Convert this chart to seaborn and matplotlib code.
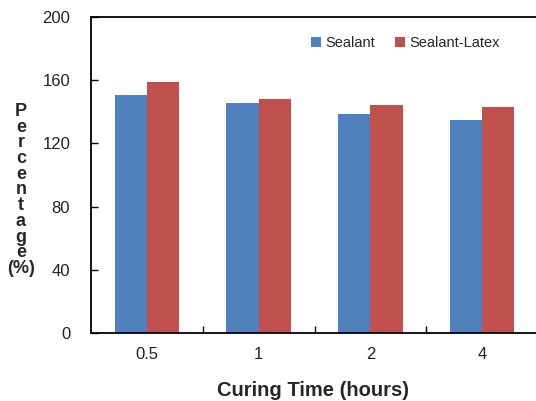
import numpy as np
import pandas as pd
import seaborn as sns
import matplotlib.pyplot as plt
from matplotlib.ticker import FixedLocator

# values
curing_time = ["0.5", "1", "2", "4"]
sealant = [150.5, 145.3, 138.5, 134.9]
sealant_latex = [158.9, 148.0, 144.6, 143.0]
series_names = ["Sealant", "Sealant-Latex"]
y_ticks = [0, 40, 80, 120, 160, 200]

df = pd.DataFrame({
    "time": curing_time * 2,
    "value": sealant + sealant_latex,
    "series": [series_names[0]] * 4 + [series_names[1]] * 4,
})

sns.set_theme(style="white")
plt.rcParams["font.family"] = ["Liberation Sans", "DejaVu Sans"]

fig = plt.figure(figsize=(5.36, 4.01), dpi=100)
ax = fig.add_axes([91 / 536, 1 - 333 / 401, 447 / 536, 316 / 401])

sns.barplot(data=df, x="time", y="value", hue="series", ax=ax,
            palette=["#4F81BD", "#C0504D"], width=0.575, linewidth=0,
            saturation=1)

ax.set_xlim(-0.5, 3.5)
ax.set_ylim(0, 200)
ax.set_yticks(y_ticks)
ax.tick_params(axis="y", direction="in", length=5, width=1, color="black",
               left=True, labelsize=12, labelcolor="#222222", pad=15)
ax.tick_params(axis="x", which="major", length=0, labelsize=12,
               labelcolor="#222222", pad=10)
ax.xaxis.set_minor_locator(FixedLocator([0.5, 1.5, 2.5]))
ax.tick_params(axis="x", which="minor", direction="in", length=5,
               width=1, color="black", bottom=True)

for s in ["left", "bottom", "top"]:
    ax.spines[s].set_color("black")
    ax.spines[s].set_linewidth(1.3)
ax.spines["right"].set_visible(False)

ax.set_ylabel("")
ax.set_xlabel("")
fig.text(313 / 536, 1 - 391 / 401, "Curing Time (hours)", ha="center",
         va="center", fontsize=14.5, fontweight="bold")
fig.text(21 / 536, 1 - 190 / 401, "P\ne\nr\nc\ne\nn\nt\na\ng\ne\n(%)",
         ha="center", va="center", fontsize=13, fontweight="bold",
         linespacing=0.9)

ax.legend(loc="center left", bbox_to_anchor=(304 / 536, 1 - 43 / 401),
          bbox_transform=fig.transFigure, frameon=False, borderpad=0,
          ncol=2, fontsize=10.5, handlelength=0.65, handleheight=0.65,
          handletextpad=0.3, columnspacing=1.4)

fig.savefig("out.png", dpi=100)
